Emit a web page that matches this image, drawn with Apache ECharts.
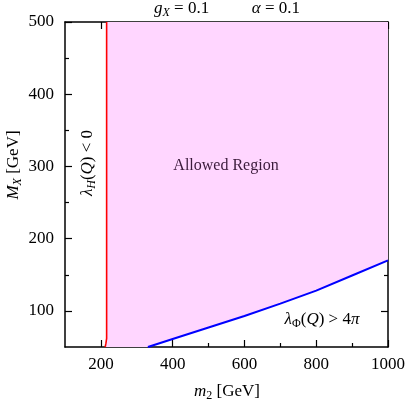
<!DOCTYPE html>
<html lang="en">
<head>
  <meta charset="UTF-8">
  <title>Allowed region</title>
  <style>
    html, body { margin: 0; padding: 0; background: #fff; }
    #main { width: 408px; height: 402px; }
  </style>
</head>
<body>
<div id="main"></div>
<script src="https://cdn.jsdelivr.net/npm/echarts@6/dist/echarts.min.js"></script>
<script>
  // red boundary: lambda_H(Q) < 0 to the left
  var redM2 = [212, 214, 216, 216];
  var redMX = [50, 55, 62, 500];
  // blue boundary: lambda_Phi(Q) > 4 pi below
  var blueM2 = [331, 400, 500, 600, 700, 800, 900, 1000];
  var blueMX = [50, 61, 77, 93, 110, 128, 149, 170];

  var xMajor = [200, 400, 600, 800, 1000];
  var xMinor = [300, 500, 700, 900];
  var yMajor = [100, 200, 300, 400, 500];
  var yMinor = [150, 250, 350, 450];

  var FONT = 'Liberation Serif';
  var chart = echarts.init(document.getElementById('main'));

  function pairs(xs, ys) {
    var out = [];
    for (var i = 0; i < xs.length; i++) out.push([xs[i], ys[i]]);
    return out;
  }

  function axis(kind, pos, ticks, len, showLine, labels) {
    var a = {
      type: 'value',
      position: pos,
      min: kind === 'x' ? 100 : 50,
      max: kind === 'x' ? 1000 : 500,
      splitLine: {show: false},
      axisLine: {show: showLine, onZero: false, lineStyle: {color: '#000', width: 1.5}},
      axisTick: {show: true, inside: true, length: len, customValues: ticks,
        lineStyle: {color: '#000', width: 1.2}},
      axisLabel: {show: false}
    };
    if (labels) {
      a.axisLabel = {show: true, customValues: labels, color: '#000',
        fontFamily: FONT, fontSize: 17, margin: kind === 'x' ? 9 : 11,
        formatter: function (v) { return String(v); }};
    }
    return a;
  }

  var rich = {
    n: {fontFamily: FONT, fontSize: 17, color: '#000', lineHeight: 20, verticalAlign: 'middle'},
    i: {fontFamily: FONT, fontSize: 17, fontStyle: 'italic', color: '#000', lineHeight: 20, verticalAlign: 'middle'},
    s: {fontFamily: FONT, fontSize: 12, fontStyle: 'italic', color: '#000', lineHeight: 13, verticalAlign: 'bottom'},
    sn: {fontFamily: FONT, fontSize: 12, color: '#000', lineHeight: 13, verticalAlign: 'bottom'}
  };

  var polygon = pairs(redM2, redMX)
    .concat([[1000, 500]])
    .concat(pairs(blueM2, blueMX).reverse());

  var option = {
    animation: false,
    grid: {left: 65, right: 19, top: 22, bottom: 55},
    xAxis: [
      axis('x', 'bottom', xMajor, 7, true, xMajor),
      axis('x', 'bottom', xMinor, 4, false),
      axis('x', 'top', xMajor, 7, true),
      axis('x', 'top', xMinor, 4, false)
    ],
    yAxis: [
      axis('y', 'left', yMajor, 7, true, yMajor),
      axis('y', 'left', yMinor, 4, false),
      axis('y', 'right', yMajor, 7, true),
      axis('y', 'right', yMinor, 4, false)
    ],
    series: [
      {
        type: 'custom',
        z: 1,
        silent: true,
        data: [[100, 50]],
        renderItem: function (params, api) {
          var pts = polygon.map(function (p) { return api.coord(p); });
          return {type: 'polygon', shape: {points: pts}, style: {fill: '#ffd6ff'}};
        }
      },
      {
        type: 'line', z: 3, symbol: 'none', silent: true,
        data: pairs(redM2, redMX),
        lineStyle: {color: '#ff0000', width: 1.6}
      },
      {
        type: 'line', z: 3, symbol: 'none', silent: true, smooth: false,
        data: pairs(blueM2, blueMX),
        lineStyle: {color: '#0000ff', width: 2}
      }
    ],
    graphic: [
      {type: 'text', x: 227, y: 9, z: 10, style: {
        text: '{i|g}{s|X}{n| = 0.1          }{i|α}{n| = 0.1}', rich: rich,
        textAlign: 'center', textVerticalAlign: 'middle'}},
      {type: 'text', x: 226, y: 166, z: 10, style: {
        text: 'Allowed Region', fill: '#3a1a3a', font: '16px "' + FONT + '"',
        textAlign: 'center', textVerticalAlign: 'middle'}},
      {type: 'text', x: 88, y: 163, rotation: Math.PI / 2, z: 10, style: {
        text: '{i|λ}{s|H}{n|(}{i|Q}{n|) < 0}', rich: rich,
        textAlign: 'center', textVerticalAlign: 'middle'}},
      {type: 'text', x: 322, y: 320, z: 10, style: {
        text: '{i|λ}{sn|Φ}{n|(}{i|Q}{n|) > 4}{i|π}', rich: rich,
        textAlign: 'center', textVerticalAlign: 'middle'}},
      {type: 'text', x: 14, y: 165, rotation: Math.PI / 2, z: 10, style: {
        text: '{i|M}{s|X}{n| [GeV]}', rich: rich,
        textAlign: 'center', textVerticalAlign: 'middle'}},
      {type: 'text', x: 227, y: 392, z: 10, style: {
        text: '{i|m}{sn|2}{n| [GeV]}', rich: rich,
        textAlign: 'center', textVerticalAlign: 'middle'}}
    ]
  };
  chart.setOption(option);
</script>
</body>
</html>
